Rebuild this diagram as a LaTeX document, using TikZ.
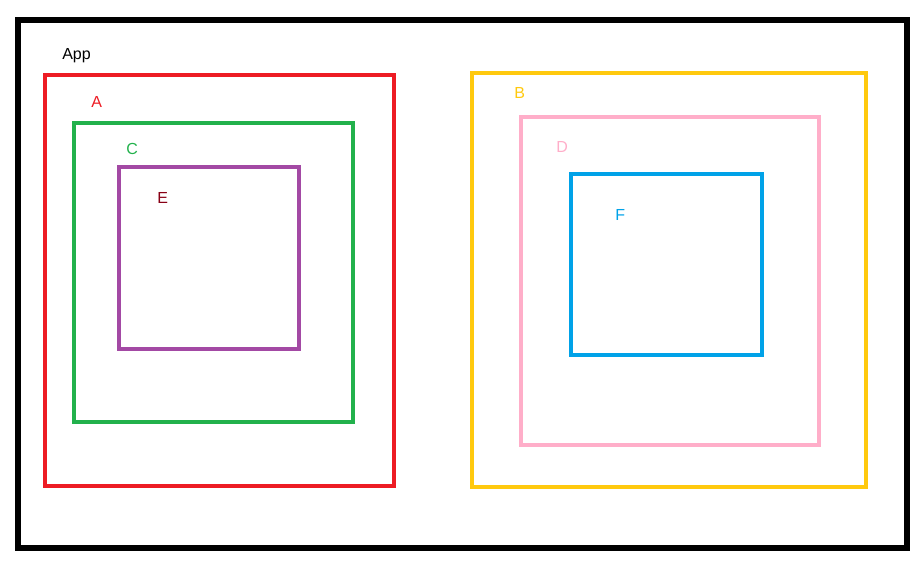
\documentclass[tikz,border=0pt]{standalone}
\usepackage{fontspec}
\setmainfont{Liberation Sans}
\definecolor{paintred}{HTML}{ED1C24}
\definecolor{paintgreen}{HTML}{22B14C}
\definecolor{paintpurple}{HTML}{A349A4}
\definecolor{paintyellow}{HTML}{FFC90E}
\definecolor{paintpink}{HTML}{FFAEC9}
\definecolor{paintblue}{HTML}{00A2E8}
\definecolor{paintbrown}{HTML}{880015}
\begin{document}
\begin{tikzpicture}[
x=0.75pt,y=-0.75pt,
font=\fontsize{12}{14}\selectfont,
frame/.style={line width=3.4pt,line join=miter},
tag/.style={anchor=base west,inner sep=0pt}
]
\useasboundingbox (0,0) rectangle (917,574);
% outer application frame
\draw[line width=3.8pt] (18,20) rectangle (907,548);
\node[tag] (app) at (62,60) {App};
% left branch
\draw[frame,paintred] (45,75) rectangle (394,486);
\draw[frame,paintgreen] (74,123) rectangle (353,422);
\draw[frame,paintpurple] (119,167) rectangle (299,349);
\node[tag,text=paintred] (a) at (91,108) {A};
\node[tag,text=paintgreen] (c) at (126,155) {C};
\node[tag,text=paintbrown] (e) at (157,204) {E};
% right branch
\draw[frame,paintyellow] (472,73) rectangle (866,487);
\draw[frame,paintpink] (521,117) rectangle (819,445);
\draw[frame,paintblue] (571,174) rectangle (762,355);
\node[tag,text=paintyellow] (b) at (514,99) {B};
\node[tag,text=paintpink] (d) at (556,153) {D};
\node[tag,text=paintblue] (f) at (615,220) {F};
\end{tikzpicture}
\end{document}
